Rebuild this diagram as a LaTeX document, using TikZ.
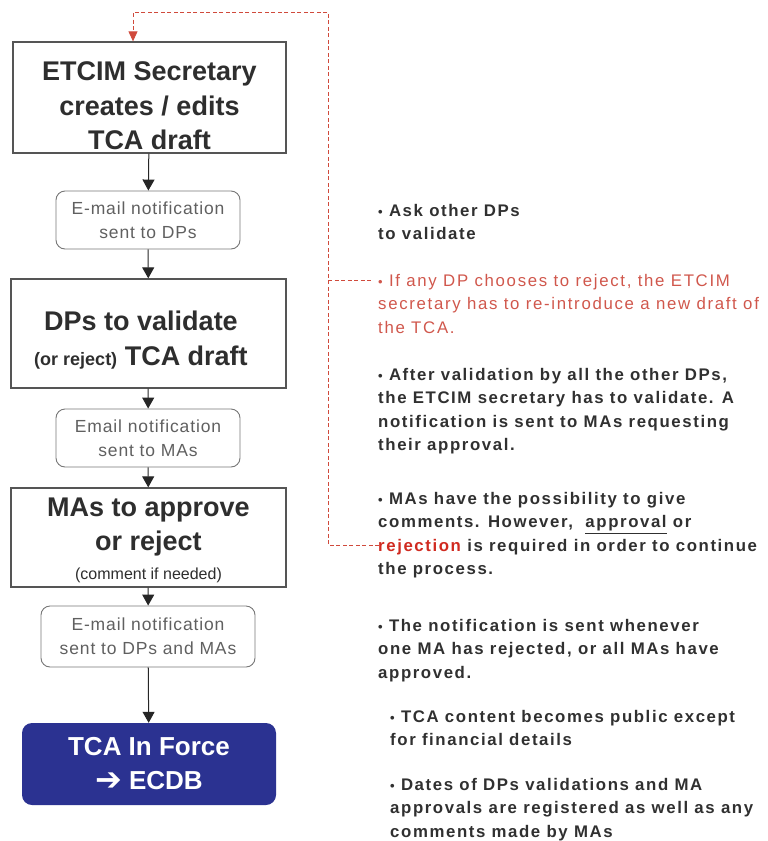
\documentclass[tikz,border=0pt]{standalone}
\usepackage{fontspec}
\setmainfont{Liberation Sans}
\usetikzlibrary{arrows.meta,positioning}
\definecolor{boxtxt}{HTML}{2E2E2E}
\definecolor{boxline}{HTML}{555555}
\definecolor{mailtxt}{HTML}{606060}
\definecolor{navy}{HTML}{2B3291}
\definecolor{dashred}{HTML}{D04A3C}
\definecolor{softred}{HTML}{D0574C}
\definecolor{rejred}{HTML}{D02A20}
\definecolor{notetxt}{HTML}{303030}
\newcommand{\bul}{{\fontsize{13}{13}\selectfont\textbullet}}
\tikzset{
  mainbox/.style={draw=boxline, line width=1.3pt, fill=white},
  maintext/.style={text=boxtxt, align=center, font=\bfseries\fontsize{27}{34.5}\selectfont, inner sep=0pt},
  mailbox/.style={draw=boxline!80, line width=0.9pt, rounded corners=9pt, fill=white, text=mailtxt, align=center, font=\fontsize{17.5}{24}\selectfont\addfontfeatures{LetterSpace=5}, inner sep=0pt},
  endbox/.style={fill=navy, rounded corners=10pt, text=white, align=center, font=\bfseries\fontsize{26}{34}\selectfont, inner sep=0pt},
  flow/.style={draw=black!85, line width=1pt, -{Triangle[width=12pt,length=11pt]}},
  reddash/.style={draw=dashred, line width=0.9pt, dash pattern=on 4pt off 2.5pt},
  note/.style={anchor=north west, align=left, text=notetxt, inner sep=0pt, font=\bfseries\fontsize{16.8}{23.5}\selectfont\addfontfeatures{LetterSpace=9.5}},
  rednote/.style={note, text=softred, font=\fontsize{16.8}{23.5}\selectfont\addfontfeatures{LetterSpace=10}}
}
\begin{document}
\begin{tikzpicture}[x=1pt,y=-1pt]
\useasboundingbox (0,0) rectangle (768,841);
% flow boxes
\node[mainbox, minimum width=273pt, minimum height=111pt] (b1) at (149.5,97.5) {};
\node[maintext] (b1t) at (149.5,106) {ETCIM Secretary\\creates / edits\\ TCA draft};
\node[mailbox, minimum width=184pt, minimum height=58pt] (m1) at (148,220) {E-mail notification\\sent to DPs};
\node[mainbox, minimum width=275pt, minimum height=109pt] (b2) at (148.5,333.5) {};
\node[maintext] (b2t) at (141,340) {DPs to validate\\{\fontsize{18}{34}\selectfont (or reject)} TCA draft};
\node[mailbox, minimum width=184pt, minimum height=58pt] (m2) at (148,438) {Email notification\\sent to MAs};
\node[mainbox, minimum width=275pt, minimum height=99pt] (b3) at (148.5,537.5) {};
\node[maintext] (b3t) at (148.5,540) {MAs to approve\\or reject\\[-6pt]{\mdseries\fontsize{16}{20}\selectfont (comment if needed)}};
\node[mailbox, minimum width=214pt, minimum height=61pt] (m3) at (148,636.5) {E-mail notification\\sent to DPs and MAs};
\node[endbox, minimum width=254pt, minimum height=82pt] (e) at (149,764) {TCA In Force\\{\fontspec{DejaVu Sans}\bfseries\fontsize{32}{34}\selectfont\raisebox{-1pt}{➔}}\hspace{7pt}ECDB};
% flow arrows
\draw[flow] (b1) -- (m1);
\draw[flow] (m1) -- (b2);
\draw[flow] (b2) -- (m2);
\draw[flow] (m2) -- (b3);
\draw[flow] (b3) -- (m3);
\draw[flow] (m3) -- (e);
% notes
\node[note] (n1) at (378,204) {\bul{} Ask other DPs\\to validate};
\node[rednote] (n2) at (378,274) {\bul{} If any DP chooses to reject, the ETCIM\\secretary has to re-introduce a new draft of\\the TCA.};
\node[note] (n3) at (378,368) {\bul{} After validation by all the other DPs,\\the ETCIM secretary has to validate. A\\notification is sent to MAs requesting\\their approval.};
\node[note] (n4) at (378,492) {\bul{} MAs have the possibility to give\\comments. However,~~\underline{approval} or\\{\color{rejred}rejection} is required in order to continue\\the process.};
\node[note] (n5) at (378,619) {\bul{} The notification is sent whenever\\one MA has rejected, or all MAs have\\approved.};
\node[note] (n6) at (390,710) {\bul{} TCA content becomes public except\\for financial details};
\node[note] (n7) at (390,778) {\bul{} Dates of DPs validations and MA\\approvals are registered as well as any\\comments made by MAs};
% red feedback
\coordinate (rj) at (379,545);
\coordinate (cr) at (328,545);
\coordinate (tl) at (133,12);
\coordinate (ib) at (328,280);
\coordinate (ie) at (372,280);
\draw[reddash, -{Triangle[width=9pt,length=10pt]}, dashred] (rj) -- (cr) |- (tl) -- (tl |- b1.north);
\draw[reddash] (ib) -- (ie);
\end{tikzpicture}
\end{document}
